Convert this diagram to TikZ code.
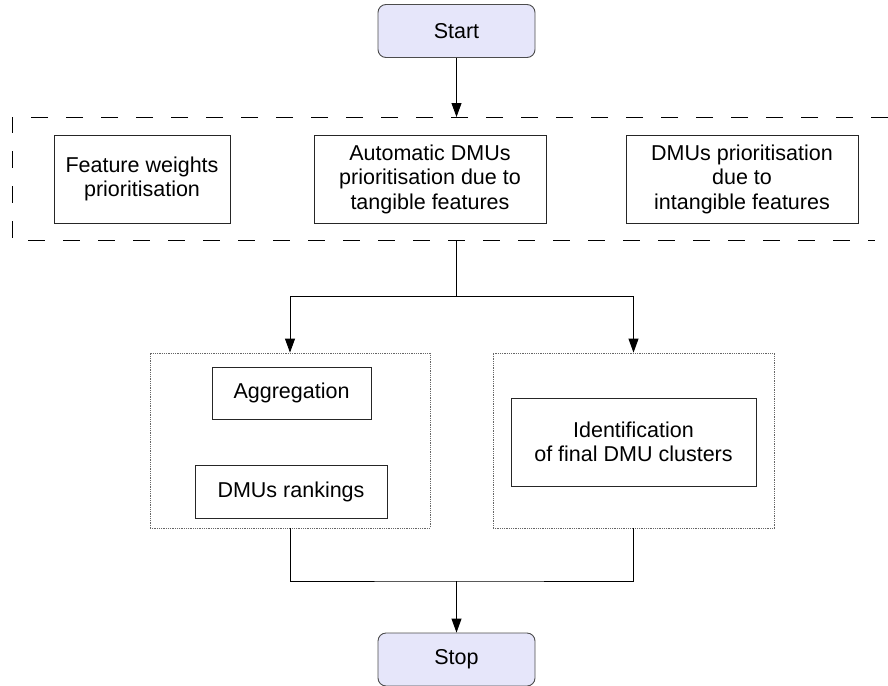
\documentclass[tikz,border=0pt]{standalone}
\usepackage{fontspec}
\setmainfont{Liberation Sans}
\usepackage{tikz}
\usetikzlibrary{arrows.meta, positioning}
\definecolor{termfill}{RGB}{230,230,250}
\tikzstyle{arrow} = [line width=0.9pt,->,>={Triangle[length=14pt,width=10pt]}]
\tikzstyle{line} = [line width=0.9pt]
\tikzstyle{terminal} = [draw=black!70, line width=0.9pt, fill=termfill, rounded corners=8pt, minimum width=157pt, minimum height=53pt, inner sep=0pt]
\tikzstyle{process} = [draw=black!85, line width=0.9pt, align=center, inner sep=0pt]
\tikzstyle{group} = [draw=black!60, line width=0.8pt, dash pattern=on 1pt off 0.8pt, inner sep=0pt]
\tikzstyle{phase} = [line width=0.9pt, dash pattern=on 17pt off 18pt]

\begin{document}
\begin{tikzpicture}[x=1pt, y=-1pt, font=\fontsize{21.5}{24.5}\selectfont]
    \useasboundingbox (0,0) rectangle (888,685);
    % start and stop
    \node[terminal] (start) at (456.5,31) {Start};
    \node[terminal] (stop) at (456.5,659.5) {Stop};
    % first phase
    \node[process, minimum width=176pt, minimum height=88pt] (weights) at (142,179) {Feature weights\\prioritisation};
    \node[process, minimum width=232pt, minimum height=88pt] (tangible) at (430,179) {Automatic DMUs\\prioritisation due to\\tangible features};
    \node[process, minimum width=232pt, minimum height=88pt] (intangible) at (742,179) {DMUs prioritisation\\due to\\intangible features};
    \coordinate (phaseTR) at (888,117);
    \coordinate (phaseTL) at (12,117);
    \coordinate (phaseBL) at (12,240);
    \coordinate (phaseBR) at (875,240);
    \coordinate (phaseTop) at (456.5,117);
    \coordinate (phaseBot) at (456.5,240);
    \draw[phase] (phaseTR) -- (phaseTL) -- (phaseBL) -- (phaseBR);
    % second phase
    \node[group, minimum width=280pt, minimum height=175pt] (ranking) at (290,440.5) {};
    \node[group, minimum width=281pt, minimum height=175pt] (clustering) at (633.5,440.5) {};
    \node[process, minimum width=159pt, minimum height=52pt] (aggr) at (291.5,393) {Aggregation};
    \node[process, minimum width=192pt, minimum height=53pt] (rankings) at (291,491.5) {DMUs rankings};
    \node[process, minimum width=245pt, minimum height=88pt] (clusters) at (633.5,442) {Identification\\of final DMU clusters};
    \coordinate (split) at (456.5,296);
    \coordinate (join) at (456.5,581);
    % connectors
    \draw[arrow] (start) -- (phaseTop);
    \draw[line] (phaseBot) -- (split);
    \draw[arrow] (split) -| (ranking.north);
    \draw[arrow] (split) -| (clustering.north);
    \draw[line] (ranking.south) |- (join) -| (clustering.south);
    \draw[arrow] (join) -- (stop);
\end{tikzpicture}
\end{document}
